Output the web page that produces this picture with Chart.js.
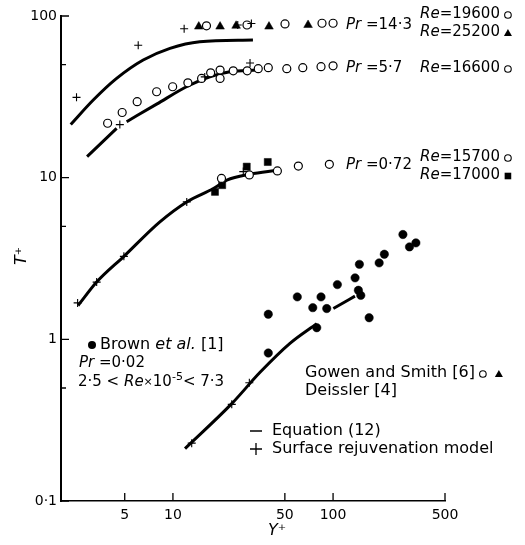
<!DOCTYPE html>
<html>
<head>
<meta charset="utf-8">
<script src="https://cdn.jsdelivr.net/npm/chart.js@4.4.0/dist/chart.umd.min.js"></script>
<style>
  html, body { margin: 0; padding: 0; background: #fff; }
</style>
</head>
<body>
<canvas id="chart" width="525" height="545"></canvas>
<script>
const FONT = '"DejaVu Sans", sans-serif';

// axis ticks
const xTicks = [5, 10, 50, 100, 500];
const xTickLabels = ['5', '10', '50', '100', '500'];
const yTicks = [0.1, 0.5, 1, 5, 10, 50, 100];
const yTickLabels = ['0·1', '', '1', '', '10', '', '100'];

// Pr = 14.3
const pr143Line = [[2.3, 21.3], [3.18, 30.2], [4.45, 41.1], [6.52, 53.4], [9.58, 63.1], [14.7, 69.3], [31.6, 71]];
const pr143Plus = [[2.5, 31.4], [6.07, 65.9], [11.75, 83.4], [25.4, 87.9], [30.9, 89.9]];
const pr143Circles = [[16.2, 87], [29.0, 88], [50.1, 89.3], [85.3, 90.2], [100, 90.2]];
const pr143Triangles = [[14.5, 86], [19.7, 86], [24.8, 87], [39.8, 86], [69.8, 88]];

// Pr = 5.7  (null = break in the drawn curve)
const pr57Line = [[2.91, 13.5], [4.45, 20.2], [4.8, null], [5.14, 22.2], [7.91, 28.5], [12.4, 36.9], [17.0, 42.1], [22.7, 45.2], [33.5, 46.3]];
const pr57Plus = [[4.66, 21.3], [15.8, 42], [30.3, 51.2]];
const pr57Circles = [[3.91, 21.7], [4.82, 25.3], [5.98, 29.5], [7.91, 34.0], [9.96, 36.5], [12.4, 38.6], [15.1, 41.1],
  [17.2, 44.5], [19.7, 46.3], [19.7, 41.1], [23.8, 45.8], [29.1, 45.8], [34.1, 47.2], [39.4, 47.9], [51.4, 47.2],
  [64.7, 47.9], [84.1, 48.6], [100, 49.2]];

// Pr = 0.72
const pr072Line = [[2.56, 1.62], [3.34, 2.26], [4.94, 3.26], [8.29, 5.33], [12.2, 7.08], [17.9, 8.57], [21.7, 9.65], [30.3, 10.5], [44.7, 11.1]];
const pr072Plus = [[2.54, 1.68], [3.34, 2.26], [4.94, 3.26], [12.2, 7.08], [27.5, 10.9]];
const pr072Circles = [[20.1, 9.89], [30.0, 10.4], [44.9, 11.0], [60.7, 11.8], [94.8, 12.1]];
const pr072Squares = [[18.3, 8.17], [20.3, 8.99], [28.9, 11.7], [39.1, 12.5]];

// Pr = 0.02
const pr002Line = [[11.9, 0.211], [23.3, 0.40], [35, 0.625], [53.8, 0.944], [79.1, 1.25], [90, null], [100.4, 1.55], [137, 1.85]];
const pr002Plus = [[13.1, 0.228], [23.3, 0.396], [30.0, 0.539]];
const brownDots = [[39.4, 1.43], [39.4, 0.823], [59.8, 1.83], [74.7, 1.57], [84.1, 1.83], [91.3, 1.55], [79.1, 1.18],
  [106.4, 2.18], [137.2, 2.40], [146, 2.91], [143.9, 2.01], [149, 1.87], [168, 1.36], [194, 2.97], [209, 3.36],
  [273, 4.45], [300, 3.73], [329, 3.95]];

const toPts = arr => arr.map(([x, y]) => ({ x, y }));

const lineSet = arr => ({
  data: toPts(arr), showLine: true, borderColor: '#000', borderWidth: 3,
  pointRadius: 0, cubicInterpolationMode: 'monotone', spanGaps: false, order: 2
});
const openCircles = arr => ({
  data: toPts(arr), pointStyle: 'circle', pointRadius: 4, pointBackgroundColor: '#fff',
  pointBorderColor: '#000', pointBorderWidth: 1.2, order: 1
});
const filled = (arr, style, r) => ({
  data: toPts(arr), pointStyle: style, pointRadius: r, pointBackgroundColor: '#000',
  pointBorderColor: '#000', pointBorderWidth: 0.5, order: 1
});
const plus = arr => ({
  data: toPts(arr), pointStyle: 'cross', pointRadius: 4, pointBorderColor: '#000',
  pointBorderWidth: 1.1, order: 0
});

// text notes: [text, style]  style: n normal, i italic, s small, sup superscript
const notes = [
  { x: 346, y: 25, size: 15, runs: [['Pr', 'i'], [' =14·3', 'n']] },
  { x: 420, y: 14, size: 15, runs: [['Re', 'i'], ['=19600', 'n']], key: 'circle' },
  { x: 420, y: 32, size: 15, runs: [['Re', 'i'], ['=25200', 'n']], key: 'triangle' },
  { x: 346, y: 68, size: 15, runs: [['Pr', 'i'], [' =5·7', 'n']] },
  { x: 420, y: 68, size: 15, runs: [['Re', 'i'], ['=16600', 'n']], key: 'circle' },
  { x: 346, y: 165, size: 15, runs: [['Pr', 'i'], [' =0·72', 'n']] },
  { x: 420, y: 157, size: 15, runs: [['Re', 'i'], ['=15700', 'n']], key: 'circle' },
  { x: 420, y: 175, size: 15, runs: [['Re', 'i'], ['=17000', 'n']], key: 'square' },
  { x: 100, y: 345, size: 16, runs: [['Brown ', 'n'], ['et al.', 'i'], [' [1]', 'n']], lead: 'dot' },
  { x: 79, y: 363, size: 15, runs: [['Pr', 'i'], [' =0·02', 'n']] },
  { x: 78, y: 382, size: 15, runs: [['2·5 < ', 'n'], ['Re', 'i'], ['×', 's'], ['10', 'n'], ['-5', 'sup'], ['< 7·3', 'n']] },
  { x: 305, y: 373, size: 16, runs: [['Gowen and Smith [6]', 'n']], key: 'circle', key2: 'triangle' },
  { x: 305, y: 391, size: 16, runs: [['Deissler [4]', 'n']] },
  { x: 272, y: 431, size: 16, runs: [['Equation (12)', 'n']], lead: 'dash' },
  { x: 272, y: 449, size: 16, runs: [['Surface rejuvenation model', 'n']], lead: 'plus' }
];

function drawRuns(ctx, x, y, runs, size) {
  ctx.textBaseline = 'middle';
  ctx.textAlign = 'left';
  for (const [text, style] of runs) {
    let font = `${size}px ${FONT}`, dy = 0;
    if (style === 'i') font = `italic ${size}px ${FONT}`;
    if (style === 's') font = `${Math.round(size * 0.75)}px ${FONT}`;
    if (style === 'sup') { font = `${Math.round(size * 0.7)}px ${FONT}`; dy = -size * 0.35; }
    ctx.font = font;
    ctx.fillText(text, x, y + dy);
    x += ctx.measureText(text).width;
  }
  return x;
}

function drawKey(ctx, kind, x, y) {
  ctx.beginPath();
  if (kind === 'circle') {
    ctx.lineWidth = 1.1;
    ctx.arc(x, y, 3.3, 0, Math.PI * 2);
    ctx.stroke();
  } else if (kind === 'triangle') {
    ctx.moveTo(x, y - 4); ctx.lineTo(x + 4, y + 3); ctx.lineTo(x - 4, y + 3); ctx.closePath();
    ctx.fill();
  } else if (kind === 'square') {
    ctx.rect(x - 3.3, y - 3.3, 6.6, 6.6);
    ctx.fill();
  } else if (kind === 'dot') {
    ctx.arc(x, y, 4, 0, Math.PI * 2);
    ctx.fill();
  } else if (kind === 'dash') {
    ctx.lineWidth = 1.5;
    ctx.moveTo(x - 6, y); ctx.lineTo(x + 6, y);
    ctx.stroke();
  } else if (kind === 'plus') {
    ctx.lineWidth = 1.3;
    ctx.moveTo(x - 6, y); ctx.lineTo(x + 6, y);
    ctx.moveTo(x, y - 6); ctx.lineTo(x, y + 6);
    ctx.stroke();
  }
}

const decorations = {
  id: 'decorations',
  afterDraw(chart) {
    const ctx = chart.ctx;
    const xs = chart.scales.x, ys = chart.scales.y;
    const area = chart.chartArea;
    ctx.save();
    ctx.strokeStyle = '#000';
    ctx.fillStyle = '#000';

    // inward tick marks
    ctx.lineWidth = 1.3;
    ctx.beginPath();
    xTicks.forEach(v => {
      const px = xs.getPixelForValue(v);
      ctx.moveTo(px, area.bottom);
      ctx.lineTo(px, area.bottom - 8);
    });
    yTicks.forEach((v, i) => {
      const py = ys.getPixelForValue(v);
      const len = yTickLabels[i] ? 8 : 5;
      ctx.moveTo(area.left, py);
      ctx.lineTo(area.left + len, py);
    });
    ctx.stroke();

    // axis titles
    ctx.textAlign = 'center';
    ctx.textBaseline = 'middle';
    ctx.font = `italic 16px ${FONT}`;
    ctx.fillText('Y⁺', (area.left + area.right) / 2 + 24, 531);
    ctx.save();
    ctx.translate(22, 256);
    ctx.rotate(-Math.PI / 2);
    ctx.fillText('T⁺', 0, 0);
    ctx.restore();

    // notes
    notes.forEach(n => {
      if (n.lead) drawKey(ctx, n.lead, n.x - (n.lead === 'dot' ? 8 : 16), n.y);
      const end = drawRuns(ctx, n.x, n.y, n.runs, n.size);
      if (n.key) drawKey(ctx, n.key, end + 8, n.y + 1);
      if (n.key2) drawKey(ctx, n.key2, end + 24, n.y + 1);
    });
    ctx.restore();
  }
};

new Chart(document.getElementById('chart').getContext('2d'), {
  type: 'scatter',
  data: {
    datasets: [
      lineSet(pr143Line), plus(pr143Plus), openCircles(pr143Circles), filled(pr143Triangles, 'triangle', 5),
      lineSet(pr57Line), plus(pr57Plus), openCircles(pr57Circles),
      lineSet(pr072Line), plus(pr072Plus), openCircles(pr072Circles), filled(pr072Squares, 'rect', 5),
      lineSet(pr002Line), plus(pr002Plus), filled(brownDots, 'circle', 4.2)
    ]
  },
  options: {
    responsive: false,
    animation: false,
    layout: { padding: { top: 16, right: 80, left: 0, bottom: 0 } },
    plugins: { legend: { display: false }, tooltip: { enabled: false } },
    scales: {
      x: {
        type: 'logarithmic', min: 2, max: 500,
        afterBuildTicks: s => { s.ticks = xTicks.map(v => ({ value: v })); },
        afterFit: s => { s.height = 44; },
        grid: { display: false, drawTicks: false },
        border: { display: true, color: '#000', width: 1.5 },
        ticks: {
          color: '#000', font: { family: FONT, size: 14 }, padding: 6,
          maxRotation: 0, autoSkip: false,
          callback: v => xTickLabels[xTicks.indexOf(v)] ?? ''
        }
      },
      y: {
        type: 'logarithmic', min: 0.1, max: 100,
        afterBuildTicks: s => { s.ticks = yTicks.map(v => ({ value: v })); },
        afterFit: s => { s.width = 61; },
        grid: { display: false, drawTicks: false },
        border: { display: true, color: '#000', width: 2 },
        ticks: {
          color: '#000', font: { family: FONT, size: 14 }, padding: 4,
          autoSkip: false,
          callback: v => yTickLabels[yTicks.indexOf(v)] ?? ''
        }
      }
    }
  },
  plugins: [decorations]
});
</script>
</body>
</html>
